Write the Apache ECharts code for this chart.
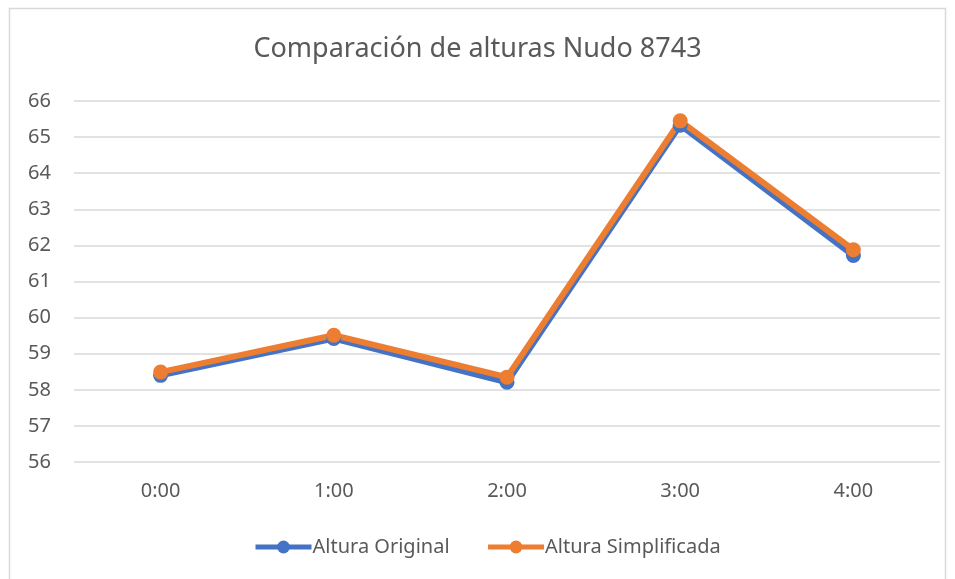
<!DOCTYPE html>
<html>
<head>
<meta charset="utf-8">
<script src="https://cdn.jsdelivr.net/npm/echarts@6/dist/echarts.min.js"></script>
<style>
  html, body { margin: 0; padding: 0; background: #fff; }
  #chart { width: 955px; height: 579px; }
</style>
</head>
<body>
<div id="chart"></div>
<script>
// Horas del día (eje de categorías)
const horas = ['0:00', '1:00', '2:00', '3:00', '4:00'];
// Alturas en el nudo 8743
const alturaOriginal = [58.40, 59.42, 58.21, 65.33, 61.72];
const alturaSimplificada = [58.49, 59.51, 58.35, 65.45, 61.88];
const titulo = 'Comparación de alturas Nudo 8743';

const fuente = '"Noto Sans", "Open Sans", sans-serif';
const gris = '#595959';

const chart = echarts.init(document.getElementById('chart'), null, { renderer: 'canvas' });
chart.setOption({
  backgroundColor: '#ffffff',
  animation: false,
  title: {
    text: titulo,
    left: 'center',
    top: 31,
    textStyle: { fontFamily: fuente, fontSize: 27, fontWeight: 'normal', color: gris }
  },
  graphic: [{
    type: 'rect',
    shape: { x: 9.5, y: 8.5, width: 936, height: 575 },
    style: { fill: 'none', stroke: '#d9d9d9', lineWidth: 1.5 },
    silent: true
  }],
  legend: {
    bottom: 17,
    left: 248,
    itemGap: 36,
    itemWidth: 56,
    itemHeight: 16,
    lineStyle: { width: 5 },
    textStyle: { fontFamily: fuente, fontSize: 20, color: gris, padding: [0, 0, 0, -4] },
    data: ['Altura Original', 'Altura Simplificada']
  },
  grid: { left: 74, right: 15, top: 101, bottom: 117 },
  xAxis: {
    type: 'category',
    data: horas,
    boundaryGap: true,
    axisLine: { show: false },
    axisTick: { show: false },
    axisLabel: { fontFamily: fuente, fontSize: 20, color: gris, margin: 19 }
  },
  yAxis: {
    type: 'value',
    min: 56,
    max: 66,
    interval: 1,
    axisLine: { show: false },
    axisTick: { show: false },
    axisLabel: { fontFamily: fuente, fontSize: 20, color: gris, margin: 23, align: 'right' },
    splitLine: { lineStyle: { color: '#d9d9d9', width: 1.5 } }
  },
  series: [
    {
      name: 'Altura Original',
      type: 'line',
      data: alturaOriginal,
      symbol: 'circle',
      symbolSize: 15,
      color: '#4472C4',
      lineStyle: { width: 6, color: '#4472C4' },
      itemStyle: { color: '#4472C4' }
    },
    {
      name: 'Altura Simplificada',
      type: 'line',
      data: alturaSimplificada,
      symbol: 'circle',
      symbolSize: 15,
      color: '#ED7D31',
      lineStyle: { width: 6, color: '#ED7D31' },
      itemStyle: { color: '#ED7D31' }
    }
  ]
});
</script>
</body>
</html>
